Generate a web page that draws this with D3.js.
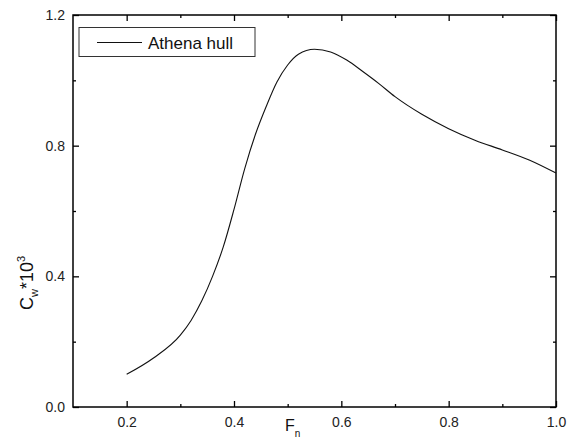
<!DOCTYPE html>
<html>
<head>
<meta charset="utf-8">
<script src="https://cdn.jsdelivr.net/npm/d3@7"></script>
<style>
  body { margin: 0; background: #fff; }
  text { font-family: Arial, "Liberation Sans", sans-serif; }
</style>
</head>
<body>
<div id="chart"></div>
<script>
// data
var fn = [0.20, 0.25, 0.30, 0.32, 0.34, 0.36, 0.38, 0.40, 0.42, 0.44, 0.46, 0.48, 0.50, 0.52, 0.55, 0.58, 0.61, 0.64, 0.67, 0.70, 0.75, 0.80, 0.85, 0.90, 0.95, 1.00];
var cw = [0.100, 0.150, 0.220, 0.265, 0.325, 0.400, 0.490, 0.605, 0.730, 0.835, 0.920, 0.995, 1.047, 1.080, 1.095, 1.087, 1.062, 1.027, 0.990, 0.950, 0.896, 0.852, 0.816, 0.787, 0.756, 0.716];
var xTicks = [0.2, 0.4, 0.6, 0.8, 1.0];
var xMinor = [0.3, 0.5, 0.7, 0.9];
var yTicks = [0.0, 0.4, 0.8, 1.2];
var yMinor = [0.2, 0.6, 1.0];
var seriesName = "Athena hull";

var svgWidth = 574;
var svgHeight = 438;
var margin = { top: 15, right: 18, bottom: 31, left: 73 };
var width = svgWidth - margin.left - margin.right;
var height = svgHeight - margin.top - margin.bottom;

var svg = d3.select("#chart")
  .append("svg")
  .attr("width", svgWidth)
  .attr("height", svgHeight);

var chartGroup = svg.append("g")
  .attr("transform", `translate(${margin.left}, ${margin.top})`);

var x = d3.scaleLinear().domain([0.1, 1.0]).range([0, width]);
var y = d3.scaleLinear().domain([0, 1.2]).range([height, 0]);

// axes, ticks pointing inward
function styleAxis(g) {
  g.select(".domain").remove();
  g.selectAll("line").attr("stroke", "#000").attr("stroke-width", 1.3);
  g.selectAll("text").attr("fill", "#222").style("font-size", "14px");
}

chartGroup.append("g")
  .attr("transform", `translate(0, ${height})`)
  .call(d3.axisBottom(x).tickValues(xTicks).tickFormat(d3.format(".1f")).tickSizeInner(-6).tickPadding(10))
  .call(styleAxis);
chartGroup.append("g")
  .attr("transform", `translate(0, ${height})`)
  .call(d3.axisBottom(x).tickValues(xMinor).tickFormat("").tickSizeInner(-3))
  .call(styleAxis);

chartGroup.append("g")
  .call(d3.axisLeft(y).tickValues(yTicks).tickFormat(d3.format(".1f")).tickSizeInner(-6).tickPadding(8))
  .call(styleAxis);
chartGroup.append("g")
  .call(d3.axisLeft(y).tickValues(yMinor).tickFormat("").tickSizeInner(-3))
  .call(styleAxis);

// mirror ticks on top and right
chartGroup.append("g")
  .call(d3.axisTop(x).tickValues(xTicks).tickFormat("").tickSizeInner(-6))
  .call(styleAxis);
chartGroup.append("g")
  .call(d3.axisTop(x).tickValues(xMinor).tickFormat("").tickSizeInner(-3))
  .call(styleAxis);
chartGroup.append("g")
  .attr("transform", `translate(${width}, 0)`)
  .call(d3.axisRight(y).tickValues(yTicks).tickFormat("").tickSizeInner(-6))
  .call(styleAxis);
chartGroup.append("g")
  .attr("transform", `translate(${width}, 0)`)
  .call(d3.axisRight(y).tickValues(yMinor).tickFormat("").tickSizeInner(-3))
  .call(styleAxis);

// frame
chartGroup.append("rect")
  .attr("width", width)
  .attr("height", height)
  .attr("fill", "none")
  .attr("stroke", "#000")
  .attr("stroke-width", 1.5);

// curve
var line = d3.line()
  .x(d => x(d[0]))
  .y(d => y(d[1]))
  .curve(d3.curveMonotoneX);

chartGroup.append("path")
  .datum(d3.zip(fn, cw))
  .attr("d", line)
  .attr("fill", "none")
  .attr("stroke", "#111")
  .attr("stroke-width", 1.1);

// legend
var legend = chartGroup.append("g").attr("transform", "translate(6, 12.5)");
legend.append("rect")
  .attr("width", 176)
  .attr("height", 29)
  .attr("fill", "#fff")
  .attr("stroke", "#333")
  .attr("stroke-width", 1);
legend.append("line")
  .attr("x1", 18).attr("x2", 63)
  .attr("y1", 15).attr("y2", 15)
  .attr("stroke", "#111")
  .attr("stroke-width", 1.1);
legend.append("text")
  .attr("x", 69)
  .attr("y", 21)
  .style("font-size", "17px")
  .attr("fill", "#111")
  .text(seriesName);

// axis titles
var xTitle = svg.append("text")
  .attr("x", 285)
  .attr("y", 431)
  .style("font-size", "16px")
  .attr("fill", "#111");
xTitle.append("tspan").text("F");
xTitle.append("tspan").attr("dy", 6).style("font-size", "10px").text("n");

var yTitle = svg.append("text")
  .attr("transform", "translate(33, 283) rotate(-90)")
  .attr("text-anchor", "middle")
  .style("font-size", "18px")
  .attr("fill", "#111");
yTitle.append("tspan").text("C");
yTitle.append("tspan").attr("dy", 5).style("font-size", "11px").text("w");
yTitle.append("tspan").attr("dy", -5).text("*10");
yTitle.append("tspan").attr("dy", -8).style("font-size", "11px").text("3");
</script>
</body>
</html>
